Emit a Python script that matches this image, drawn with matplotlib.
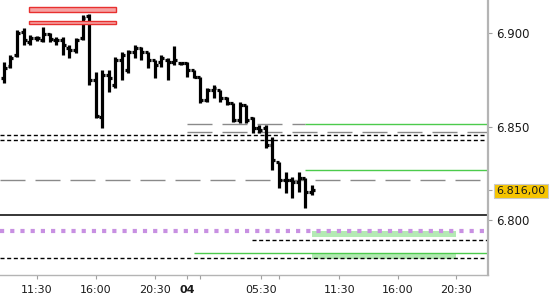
import matplotlib
matplotlib.use('Agg')
import matplotlib.pyplot as plt
from matplotlib.patches import Rectangle

# 30 minute OHLC bars
opens = [6.8760, 6.8824, 6.8883, 6.9006, 6.8952, 6.8974, 6.8963, 6.8995, 6.8963, 6.8963,
         6.8920, 6.8910, 6.8974, 6.9091, 6.8749, 6.8551, 6.8776, 6.8722, 6.8856, 6.8803,
         6.8899, 6.8920, 6.8899, 6.8856, 6.8845, 6.8856, 6.8845, 6.8840, 6.8840, 6.8803,
         6.8765, 6.8642, 6.8696, 6.8696, 6.8653, 6.8626, 6.8535, 6.8615, 6.8546, 6.8492,
         6.8492, 6.8401, 6.8310, 6.8214, 6.8214, 6.8203, 6.8225, 6.8150]
highs = [6.8845, 6.8883, 6.9017, 6.9027, 6.8990, 6.8984, 6.9033, 6.9000, 6.8979, 6.8979,
         6.8936, 6.8974, 6.9097, 6.9102, 6.8792, 6.8803, 6.8803, 6.8872, 6.8899, 6.8910,
         6.8936, 6.8926, 6.8899, 6.8856, 6.8883, 6.8867, 6.8931, 6.8845, 6.8845, 6.8803,
         6.8765, 6.8706, 6.8722, 6.8696, 6.8658, 6.8626, 6.8631, 6.8615, 6.8551, 6.8508,
         6.8508, 6.8444, 6.8310, 6.8257, 6.8230, 6.8257, 6.8225, 6.8187]
lows = [6.8733, 6.8813, 6.8872, 6.8936, 6.8936, 6.8958, 6.8952, 6.8952, 6.8936, 6.8883,
        6.8867, 6.8893, 6.8963, 6.8722, 6.8546, 6.8492, 6.8685, 6.8706, 6.8749, 6.8786,
        6.8867, 6.8856, 6.8813, 6.8760, 6.8819, 6.8749, 6.8829, 6.8829, 6.8765, 6.8760,
        6.8626, 6.8631, 6.8653, 6.8631, 6.8615, 6.8524, 6.8519, 6.8519, 6.8465, 6.8465,
        6.8385, 6.8268, 6.8171, 6.8144, 6.8118, 6.8150, 6.8064, 6.8134]
closes = [6.8813, 6.8867, 6.9000, 6.8963, 6.8974, 6.8974, 6.8995, 6.8968, 6.8963, 6.8936,
          6.8910, 6.8963, 6.9081, 6.8749, 6.8556, 6.8776, 6.8760, 6.8856, 6.8883, 6.8899,
          6.8920, 6.8899, 6.8856, 6.8829, 6.8867, 6.8845, 6.8856, 6.8840, 6.8803, 6.8765,
          6.8642, 6.8696, 6.8706, 6.8653, 6.8626, 6.8535, 6.8615, 6.8535, 6.8492, 6.8482,
          6.8401, 6.8321, 6.8214, 6.8214, 6.8203, 6.8225, 6.8150, 6.8161]

# x axis ticks (in bar slots)
tick_pos = [5, 14, 23, 28, 30, 39.2, 42, 51.2, 60.1, 69]
tick_labels = ['11:30', '16:00', '20:30', '04', '', '05:30', '', '11:30', '16:00', '20:30']

# y axis
y_ticks = [6.800, 6.816, 6.850, 6.900]
y_labels = ['6.800', '6.816,00', '6.850', '6.900']

# horizontal levels: (price, start slot)
black_dashed = [(6.8455, None), (6.8426, None), (6.7891, 37.9), (6.7796, None)]
grey_dashed = [(6.8512, 27.9, 46.0), (6.8469, 27.9, None), (6.8212, None, None)]
green_lines = [(6.8512, 46.0), (6.8266, 46.0), (6.7823, 29.0)]
black_line = 6.8025
purple_level = 6.7943

# zones: (low, high, start, end)
red_zones = [(6.9115, 6.9137, 3.8, 17.05), (6.9047, 6.9067, 3.8, 17.05)]
green_zones = [(6.7911, 6.7943, 47.1, 69.0), (6.7790, 6.7824, 47.1, 69.0)]

x_min, x_max = -0.6, 73.9
y_min, y_max = 6.7706, 6.9177

fig = plt.figure(figsize=(5.5, 3), dpi=100)
ax = fig.add_axes([0, 25 / 300, 488 / 550, 275 / 300])
ax.set_xlim(x_min, x_max)
ax.set_ylim(y_min, y_max)

def start(v):
    return x_min if v is None else v

def end(v):
    return x_max if v is None else v

for lo, hi, x0, x1 in red_zones:
    ax.add_patch(Rectangle((x0, lo), x1 - x0, hi - lo, facecolor='#f5a3a3',
                           edgecolor='#e8302f', linewidth=1.0, zorder=5))
for lo, hi, x0, x1 in green_zones:
    ax.add_patch(Rectangle((x0, lo), x1 - x0, hi - lo, facecolor='#b4eab4',
                           edgecolor='none', zorder=1))

for y, x0 in black_dashed:
    ax.hlines(y, start(x0), x_max, color='black', linewidth=1.0,
              linestyles=(0, (2.9, 1.9)), zorder=2)
for y, x0, x1 in grey_dashed:
    ax.hlines(y, start(x0), end(x1), color='#8a8a8a', linewidth=1.0,
              linestyles=(0, (18, 7.2)), zorder=2)
for y, x0 in green_lines:
    ax.hlines(y, x0, x_max, color='#4ccb4c', linewidth=1.0, zorder=2)
ax.hlines(black_line, x_min, x_max, color='black', linewidth=1.1, zorder=2)
ax.hlines(purple_level, x_min, x_max, color='#c890e2', linewidth=3.0,
          linestyles=(0, (1, 1.45)), zorder=3)

# OHLC bars
x = list(range(len(opens)))
w = 0.45
ax.vlines(x, lows, highs, color='black', linewidth=2.3, zorder=4)
ax.hlines(opens, [i - w for i in x], x, color='black', linewidth=2.3, zorder=4)
ax.hlines(closes, x, [i + w for i in x], color='black', linewidth=2.3, zorder=4)

# axes styling
for s in ['left', 'top']:
    ax.spines[s].set_visible(False)
ax.spines['right'].set_color('#b4b4b4')
ax.spines['right'].set_linewidth(1.6)
ax.spines['bottom'].set_color('#b4b4b4')
ax.spines['bottom'].set_linewidth(1.0)

ax.set_xticks(tick_pos)
ax.set_xticklabels(tick_labels)
ax.tick_params(axis='x', direction='out', length=3, color='#a0a0a0',
               labelsize=8, labelcolor='#1a1a1a', pad=4)
for lbl in ax.get_xticklabels():
    if lbl.get_text() == '04':
        lbl.set_fontweight('bold')

ax.yaxis.tick_right()
ax.set_yticks(y_ticks)
ax.set_yticklabels(y_labels)
ax.tick_params(axis='y', direction='out', length=3, color='#a0a0a0',
               labelsize=8.5, labelcolor='#1a1a1a', pad=3)
for lbl in ax.get_yticklabels():
    if lbl.get_text() == '6.816,00':
        lbl.set_fontsize(8)
        lbl.set_bbox(dict(boxstyle='square,pad=0.2', facecolor='#f6c500',
                          edgecolor='#c8c8c8', linewidth=0.8))

fig.savefig('out.png', dpi=100)
